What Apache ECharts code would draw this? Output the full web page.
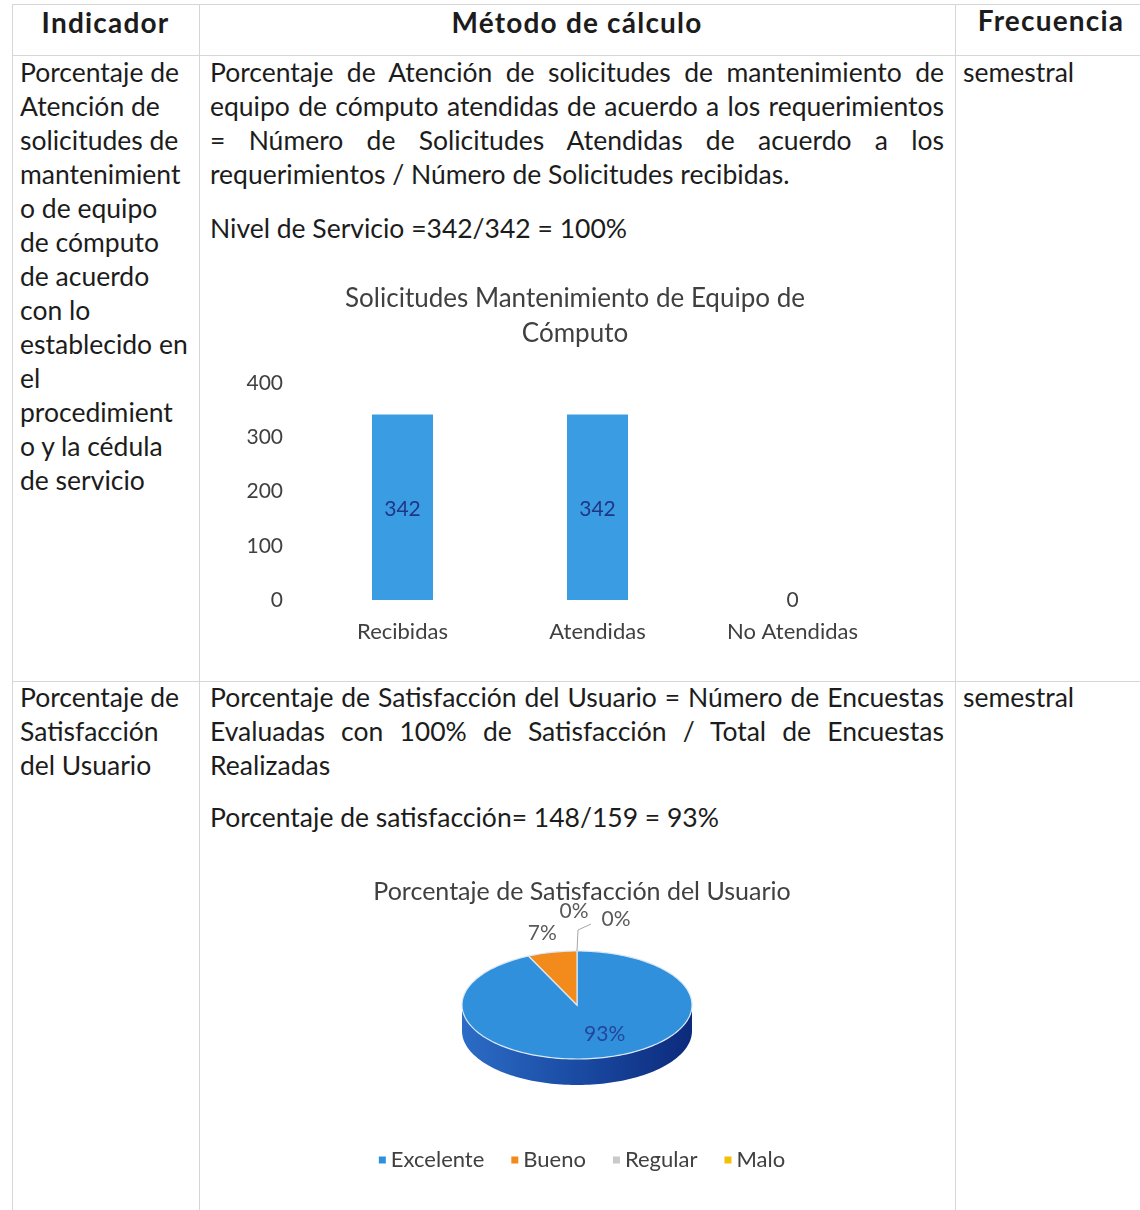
<!DOCTYPE html>
<html><head><meta charset="utf-8">
<script src="https://cdn.jsdelivr.net/npm/echarts@6/dist/echarts.min.js"></script>
<style>
body{margin:0;width:1140px;height:1210px;position:relative;background:#fff;overflow:hidden;font-family:Lato,"Noto Sans",sans-serif;color:#1c1c1c}
.hl{position:absolute;height:1px;background:#d6d6d6}
.vl{position:absolute;width:1px;background:#d6d6d6}
.t{position:absolute;font-size:26.5px;line-height:34px}
.h{position:absolute;font-size:28px;font-weight:bold;line-height:34px;text-align:center;letter-spacing:1.2px}
.j{text-align:justify;text-align-last:justify}
</style></head><body>
<div class="hl" style="left:12px;top:4px;width:1128px"></div>
<div class="hl" style="left:12px;top:55px;width:1128px"></div>
<div class="hl" style="left:12px;top:681px;width:1128px"></div>
<div class="vl" style="left:12px;top:4px;height:1206px"></div>
<div class="vl" style="left:199px;top:4px;height:1206px"></div>
<div class="vl" style="left:955px;top:4px;height:1206px"></div>

<div class="h" style="left:12px;top:5px;width:187px">Indicador</div>
<div class="h" style="left:199px;top:5px;width:756px">Método de cálculo</div>
<div class="h" style="left:955px;top:3px;width:192px">Frecuencia</div>

<div class="t" style="left:20px;top:55px;width:178px">Porcentaje de<br>Atención de<br>solicitudes de<br>mantenimient<br>o de equipo<br>de cómputo<br>de acuerdo<br>con lo<br>establecido en<br>el<br>procedimient<br>o y la cédula<br>de servicio</div>
<div class="t" style="left:210px;top:55px;width:734px">
<div class="j">Porcentaje de Atención de solicitudes de mantenimiento de</div>
<div class="j">equipo de cómputo atendidas de acuerdo a los requerimientos</div>
<div class="j">= Número de Solicitudes Atendidas de acuerdo a los</div>
<div>requerimientos / Número de Solicitudes recibidas.</div>
</div>
<div class="t" style="left:210px;top:211px">Nivel de Servicio =342/342 = 100%</div>
<div class="t" style="left:963px;top:55px">semestral</div>

<div class="t" style="left:20px;top:680px;width:178px">Porcentaje de<br>Satisfacción<br>del Usuario</div>
<div class="t" style="left:210px;top:680px;width:734px">
<div class="j">Porcentaje de Satisfacción del Usuario = Número de Encuestas</div>
<div class="j">Evaluadas con 100% de Satisfacción / Total de Encuestas</div>
<div>Realizadas</div>
</div>
<div class="t" style="left:210px;top:800px">Porcentaje de satisfacción= 148/159 = 93%</div>
<div class="t" style="left:963px;top:680px">semestral</div>

<div id="bar" style="position:absolute;left:220px;top:275px;width:710px;height:390px"></div>
<div id="pie" style="position:absolute;left:340px;top:860px;width:484px;height:340px"></div>

<script>
const barCategories = ['Recibidas', 'Atendidas', 'No Atendidas'];
const barValues = [342, 342, 0];
const yTicks = [0, 100, 200, 300, 400];

const satCategories = ['Excelente', 'Bueno', 'Regular', 'Malo'];
const satValues = [148, 11, 0, 0];
const satColors = ['#3190dc', '#f38b1c', '#c9c9c9', '#f2c200'];

const FONT = 'Lato';

const bar = echarts.init(document.getElementById('bar'));
bar.setOption({
  animation: false,
  title: {
    text: 'Solicitudes Mantenimiento de Equipo de\nCómputo',
    left: 'center', top: 1,
    textStyle: {fontFamily: FONT, fontSize: 26, fontWeight: 'normal', color: '#404040', lineHeight: 35}
  },
  grid: {left: 85, top: 108, width: 585, height: 217},
  xAxis: {
    type: 'category', data: barCategories,
    axisLine: {show: false}, axisTick: {show: false},
    axisLabel: {fontFamily: FONT, fontSize: 22, color: '#404040', margin: 21}
  },
  yAxis: {
    type: 'value', min: yTicks[0], max: yTicks[yTicks.length - 1], interval: 100,
    axisLine: {show: false}, axisTick: {show: false}, splitLine: {show: false},
    axisLabel: {fontFamily: FONT, fontSize: 21, color: '#404040', margin: 22}
  },
  series: [{
    type: 'bar', data: barValues, barWidth: 61,
    itemStyle: {color: '#3a9de3'},
    label: {
      show: true, position: 'inside',
      formatter: p => p.value > 0 ? '{a|' + p.value + '}' : '{b|' + p.value + '}',
      rich: {
        a: {fontFamily: FONT, fontSize: 21, color: '#1f3686', padding: [4, 0, 0, 0]},
        b: {fontFamily: FONT, fontSize: 21, color: '#404040'}
      }
    }
  }]
});

const pie = echarts.init(document.getElementById('pie'));
const CX = 237, CY = 145, RX = 115, RY = 54, DEPTH = 26;
function pt(th, dy) { return [CX + RX * Math.sin(th), CY - RY * Math.cos(th) + (dy || 0)]; }
function arc(a, b, dy) {
  const pts = [], n = Math.max(2, Math.ceil(Math.abs(b - a) / 0.03));
  for (let k = 0; k <= n; k++) pts.push(pt(a + (b - a) * k / n, dy));
  return pts;
}
pie.setOption({
  animation: false,
  title: {
    text: 'Porcentaje de Satisfacción del Usuario', left: 'center', top: 14,
    textStyle: {fontFamily: FONT, fontSize: 25, fontWeight: 'normal', color: '#404040'}
  },
  legend: {
    data: satCategories, bottom: 24, left: 'center', icon: 'rect',
    itemWidth: 7, itemHeight: 7, itemGap: 27,
    textStyle: {fontFamily: FONT, fontSize: 22, color: '#404040'}
  },
  series: [
    {
      type: 'pie', radius: [0, 0], center: [CX, CY], silent: true,
      label: {show: false}, labelLine: {show: false},
      data: satCategories.map((n, i) => ({name: n, value: satValues[i], itemStyle: {color: satColors[i]}}))
    },
    {
      type: 'custom', coordinateSystem: 'none', silent: true,
      data: satValues.map((v, i) => [i, v]),
      renderItem: function (params, api) {
        const i = params.dataIndex;
        const v = api.value(1);
        const total = satValues.reduce((s, x) => s + x, 0);
        let before = 0;
        for (let k = 0; k < i; k++) before += satValues[k];
        const a = 2 * Math.PI * before / total, b = 2 * Math.PI * (before + v) / total;
        const children = [];
        if (v > 0) {
          const lo = Math.max(a, Math.PI / 2), hi = Math.min(b, 3 * Math.PI / 2);
          if (hi > lo) {
            const top = arc(lo, hi, 0), bot = arc(hi, lo, DEPTH);
            children.push({
              type: 'polygon', shape: {points: top.concat(bot)},
              style: {fill: new echarts.graphic.LinearGradient(0, 0, 1, 0, [
                {offset: 0, color: '#2c6cc6'}, {offset: 0.5, color: '#1a4ba3'}, {offset: 1, color: '#0c2a7c'}
              ])}
            });
          }
          children.push({
            type: 'polygon', shape: {points: [[CX, CY]].concat(arc(a, b, 0))},
            style: {fill: satColors[i], stroke: '#dbe9f7', lineWidth: 1.2}
          });
        }
        const pct = Math.round(v / total * 100) + '%';
        const m = (a + b) / 2;
        const txt = (s, x, y, c) => ({type: 'text', style: {text: s, x: x, y: y, fill: c, fontSize: 21, fontFamily: FONT, align: 'center', verticalAlign: 'middle'}});
        if (v / total > 0.5) {
          children.push(txt(pct, CX + RX * 0.55 * Math.sin(m) + 14, CY - RY * 0.55 * Math.cos(m), '#24469a'));
        } else if (v > 0) {
          children.push(txt(pct, CX + RX * 1.4 * Math.sin(m), CY - RY * 1.4 * Math.cos(m) + 2, '#595959'));
        } else {
          let z = 0;
          for (let k = 0; k < i; k++) if (satValues[k] === 0) z++;
          const e = pt(a, 0);
          if (z === 0) {
            children.push(txt(pct, e[0] - 3, e[1] - 40, '#595959'));
          } else {
            children.push({type: 'polyline', shape: {points: [e, [e[0] + 1, e[1] - 21], [e[0] + 14, e[1] - 27]]}, style: {stroke: '#a6a6a6', lineWidth: 1, fill: 'none'}});
            children.push(txt(pct, e[0] + 39, e[1] - 32, '#595959'));
          }
        }
        return {type: 'group', children: children};
      }
    }
  ]
});
</script>
</body></html>
